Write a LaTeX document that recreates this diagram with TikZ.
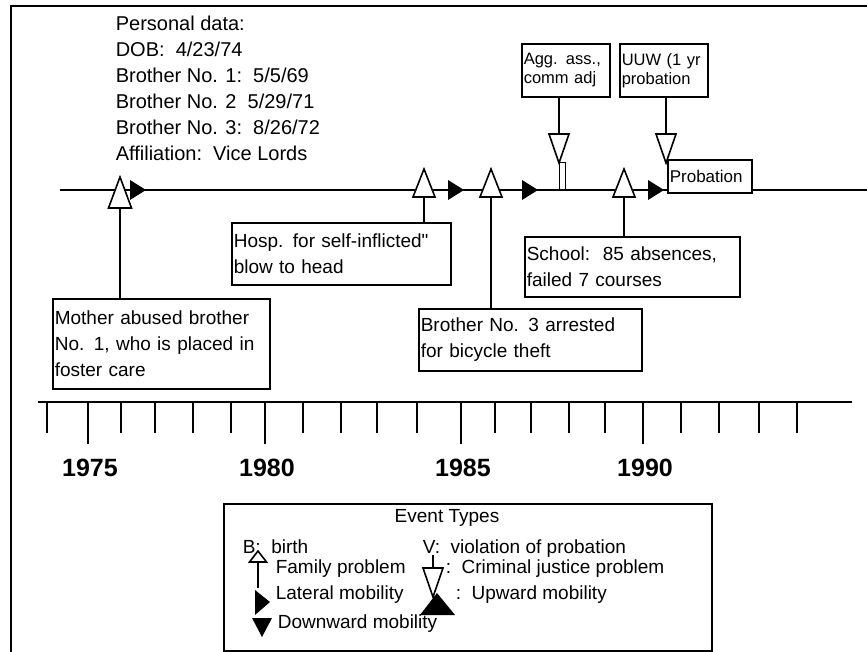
\documentclass[tikz,border=0pt]{standalone}
\usepackage{fontspec}
\setmainfont{Liberation Sans}

\tikzset{
  evbox/.style={draw, fill=white, anchor=north west, align=left, inner xsep=2pt,
    inner ysep=3pt, font=\fontsize{19}{26}\selectfont},
  smallbox/.style={evbox, font=\fontsize{16.5}{19}\selectfont},
  legtext/.style={anchor=base west, inner sep=0pt, font=\fontsize{19}{23}\selectfont},
  yearlab/.style={anchor=base, inner sep=0pt, font=\fontsize{25}{28}\selectfont\bfseries},
  opentri/.style={draw, fill=white},
}
% open triangle pointing up: base centre, half width, height
\newcommand\famup[3]{\draw[opentri] (#1) ++(-#2,0) -- ++(#2,-#3) -- ++(#2,#3) -- cycle;}
% open triangle pointing down: top centre
\newcommand\crimdown[1]{\draw[opentri] (#1) ++(-10,0) -- ++(20,0) -- ++(-10,29) -- cycle;}
% filled triangle pointing right: left centre
\newcommand\lateral[1]{\fill (#1) -- ++(0,-10) -- ++(16,10) -- ++(-16,10) -- cycle;}

\begin{document}
\begin{tikzpicture}[x=1pt, y=-1pt, line width=1.6pt]
  \useasboundingbox (0,0) rectangle (867,652);
  \draw (11,652) -- (11,6) -- (867,6);

  \node[anchor=north west, align=left, inner sep=0pt, font=\fontsize{20}{26}\selectfont]
    (personal) at (115,15)
    {Personal data:\\DOB:\ \ 4/23/74\\Brother No. 1:\ \ 5/5/69\\Brother No. 2\ \ 5/29/71\\
     Brother No. 3:\ \ 8/26/72\\Affiliation:\ \ Vice Lords};

  % main time line
  \coordinate (tlstart) at (60,190);
  \coordinate (tlend) at (867,190);
  \draw (tlstart) -- (tlend);

  \coordinate (fam1) at (120,208);
  \coordinate (fam2) at (424,197);
  \coordinate (fam3) at (491,197);
  \coordinate (fam4) at (624,197);
  \coordinate (crim1) at (559,134);
  \coordinate (crim2) at (666,134);

  \node[evbox, minimum width=215, minimum height=90, text width=213pt] (mother) at (52,298)
    {Mother abused brother\\No. 1, who is placed in\\foster care};
  \node[evbox, minimum width=217, minimum height=62, text width=215pt] (hosp) at (231,222)
    {Hosp. for self-inflicted\textquotedbl\\blow to head};
  \node[evbox, minimum width=221, minimum height=62, text width=219pt] (bro3) at (418,308)
    {Brother No. 3 arrested\\for bicycle theft};
  \node[evbox, minimum width=213, minimum height=60, text width=211pt] (school) at (524,236)
    {School:\ \ 85 absences,\\failed 7 courses};
  \node[smallbox, minimum width=86, minimum height=53, text width=84pt] (agg) at (521,43)
    {Agg. ass.,\\comm adj};
  \node[smallbox, minimum width=86, minimum height=53, text width=84pt] (uuw) at (619,43)
    {UUW (1 yr\\probation};
  \node[evbox, minimum width=82, minimum height=33, text width=80pt,
    font=\fontsize{17}{20}\selectfont] (prob) at (667,159) {Probation};

  \draw (fam1) -- (fam1 |- mother.north);
  \draw (fam2) -- (fam2 |- hosp.north);
  \draw (fam3) -- (fam3 |- bro3.north);
  \draw (fam4) -- (fam4 |- school.north);
  \draw (crim1 |- agg.south) -- (crim1);
  \draw (crim2 |- uuw.south) -- (crim2);

  \famup{fam1}{11.5}{31}
  \famup{fam2}{11}{28}
  \famup{fam3}{11}{28}
  \famup{fam4}{11}{28}
  \crimdown{crim1}
  \crimdown{crim2}
  \draw[line width=1pt, fill=white] (559,163) rectangle (565,190);
  \foreach \lx in {130,448,522,648} {
    \lateral{\lx,190}
  }

  % year axis
  \draw (38,402) -- (852,402);
  \foreach \tx in {47,121,155,193,231,303,341,377,417,495,531,569,605,681,719,759,797}
    \draw (\tx,402) -- (\tx,433);
  \foreach \yr/\tx in {1975/88,1980/265,1985/461,1990/643} {
    \draw (\tx,402) -- (\tx,444);
    \node[yearlab] (y\yr) at (\tx+2,476) {\yr};
  }

  % legend
  \node[draw, anchor=north west, inner sep=0pt, minimum width=488, minimum height=147]
    (legend) at (223,503) {};
  \node[font=\fontsize{19}{23}\selectfont] (legtitle) at (447,518) {Event Types};
  \node[legtext] (legB) at (242,553) {B:\ \ birth};
  \node[legtext] (legV) at (422,553) {V:\ \ violation of probation};
  \node[legtext] (legfam) at (275,573) {Family problem};
  \node[legtext] (legcrim) at (445,573) {:\ \ Criminal justice problem};
  \node[legtext] (leglat) at (275,599) {Lateral mobility};
  \node[legtext] (legup) at (455,599) {:\ \ Upward mobility};
  \node[legtext] (legdown) at (277,628) {Downward mobility};

  \draw (258,562) -- (258,588);
  \famup{258,562}{8.5}{11}
  \draw (433,555) -- (433,568);
  \crimdown{433,568}
  \fill (255,590) -- (270,602) -- (255,615) -- cycle;
  \fill (420,615) -- (455,615) -- (437,593) -- cycle;
  \fill (252,618) -- (272,618) -- (262,637) -- cycle;
\end{tikzpicture}
\end{document}
